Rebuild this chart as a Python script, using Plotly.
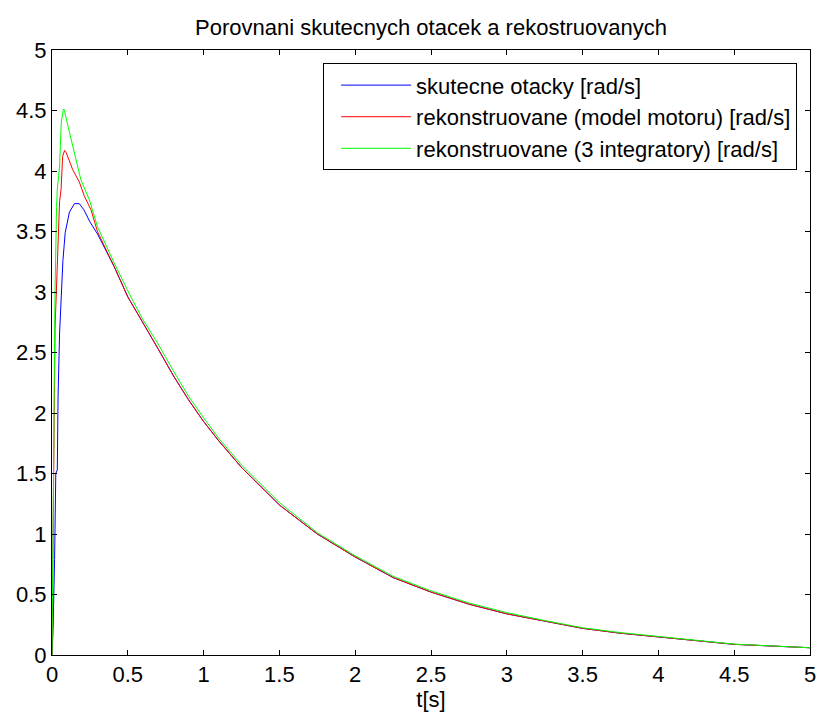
import plotly.graph_objects as go

# --- data ---
t_blue = [0.0, 0.007, 0.017, 0.025, 0.035, 0.04, 0.05, 0.061, 0.072, 0.087, 0.105, 0.115, 0.148,
          0.18, 0.21, 0.25, 0.30, 0.35, 0.41, 0.5, 0.6, 0.7, 0.8, 0.9, 1.0, 1.1, 1.25, 1.5, 1.75,
          2.0, 2.25, 2.5, 2.75, 3.0, 3.25, 3.5, 3.75, 4.0, 4.25, 4.5, 4.75, 5.0]
v_blue = [0.0, 0.2, 0.79, 1.5, 1.53, 2.13, 2.66, 2.99, 3.26, 3.49, 3.61, 3.66, 3.73,
          3.73, 3.68, 3.58, 3.48, 3.36, 3.21, 2.96, 2.75, 2.53, 2.31, 2.11, 1.93, 1.77, 1.55, 1.24, 1.0,
          0.81, 0.64, 0.52, 0.42, 0.34, 0.28, 0.22, 0.18, 0.15, 0.115, 0.088, 0.074, 0.06]

t_red = [0.0, 0.005, 0.012, 0.02, 0.03, 0.04, 0.05, 0.06, 0.07, 0.083, 0.094, 0.137, 0.18, 0.214,
         0.257, 0.30, 0.35, 0.41, 0.5, 0.6, 0.7, 0.8, 0.9, 1.0, 1.1, 1.25, 1.5, 1.75,
         2.0, 2.25, 2.5, 2.75, 3.0, 3.25, 3.5, 3.75, 4.0, 4.25, 4.5, 4.75, 5.0]
v_red = [0.0, 0.7, 1.83, 2.7, 3.05, 3.4, 3.75, 3.85, 4.12, 4.17, 4.15, 4.01, 3.91, 3.79,
         3.68, 3.50, 3.37, 3.21, 2.96, 2.75, 2.53, 2.31, 2.11, 1.93, 1.77, 1.55, 1.24, 1.0,
         0.81, 0.64, 0.52, 0.42, 0.34, 0.28, 0.22, 0.18, 0.15, 0.115, 0.088, 0.074, 0.06]

t_green = [0.0, 0.005, 0.013, 0.02, 0.03, 0.035, 0.05, 0.061, 0.075, 0.08, 0.115, 0.16, 0.19,
           0.247, 0.30, 0.41, 0.508, 0.596, 0.7, 0.8, 0.9, 1.0, 1.1, 1.25, 1.5, 1.75,
           2.0, 2.25, 2.5, 2.75, 3.0, 3.25, 3.5, 3.75, 4.0, 4.25, 4.5, 4.75, 5.0]
v_green = [0.0, 0.75, 2.0, 3.0, 3.7, 3.85, 4.04, 4.4, 4.51, 4.51, 4.32, 4.08, 3.93,
           3.76, 3.54, 3.24, 2.99, 2.78, 2.57, 2.35, 2.14, 1.96, 1.79, 1.57, 1.26, 1.01,
           0.82, 0.65, 0.53, 0.43, 0.35, 0.285, 0.225, 0.185, 0.152, 0.118, 0.09, 0.075, 0.06]

names = ["skutecne otacky [rad/s]",
         "rekonstruovane (model motoru) [rad/s]",
         "rekonstruovane (3 integratory) [rad/s]"]
colors = ["#0000FF", "#FF0000", "#00FF00"]

x_ticks = [0, 0.5, 1, 1.5, 2, 2.5, 3, 3.5, 4, 4.5, 5]
y_ticks = [0, 0.5, 1, 1.5, 2, 2.5, 3, 3.5, 4, 4.5, 5]

FONT = "Liberation Sans, Arial, Helvetica, sans-serif"
FS = 22

fig = go.Figure()
for i, (tx, vy) in enumerate([(t_blue, v_blue), (t_red, v_red), (t_green, v_green)]):
    fig.add_trace(go.Scatter(x=tx, y=vy, mode="lines", name=names[i],
                             legendgroup=f"g{i}",
                             line=dict(color=colors[i], width=1)))

axis_common = dict(showgrid=False, zeroline=False, showline=True, linecolor="black",
                   linewidth=1, mirror="ticks", ticks="inside", ticklen=5,
                   tickcolor="black", tickfont=dict(family=FONT, size=FS, color="black"))

fig.update_layout(
    width=826, height=718,
    paper_bgcolor="white", plot_bgcolor="white",
    margin=dict(l=52, r=10, t=50, b=63),
    title=dict(text="Porovnani skutecnych otacek a rekostruovanych",
               xref="paper", x=0.5, xanchor="center", y=0.962, yanchor="middle",
               font=dict(family=FONT, size=FS, color="black")),
    xaxis=dict(range=[0, 5], tickvals=x_ticks, ticktext=[str(v) for v in x_ticks],
               title=dict(text="t[s]", font=dict(family=FONT, size=FS, color="black"), standoff=2),
               **axis_common),
    yaxis=dict(range=[0, 5], tickvals=y_ticks, ticktext=[str(v) for v in y_ticks],
               **axis_common),
    legend=dict(x=0.983, y=0.978, xanchor="right", yanchor="top",
                bgcolor="white", bordercolor="black", borderwidth=1,
                font=dict(family=FONT, size=FS, color="black"),
                tracegroupgap=0, itemwidth=70, indentation=12),
    showlegend=True,
)

fig.write_html("out.html")
